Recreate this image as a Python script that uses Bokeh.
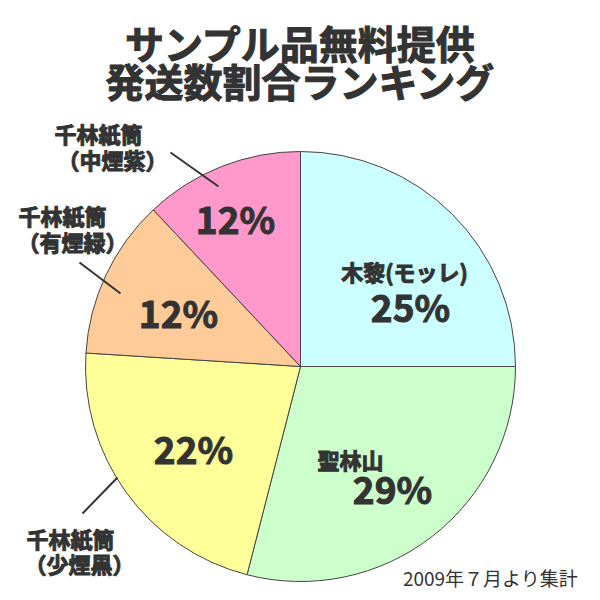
import math
from bokeh.plotting import figure
from bokeh.models import Range1d
from bokeh.core.properties import value
from bokeh.embed import file_html
from bokeh.resources import INLINE

# ---- data ----
title_lines = ["サンプル品無料提供", "発送数割合ランキング"]
categories = ["木黎(モッレ)", "聖林山", "千林紙筒\n（少煙黒）", "千林紙筒\n（有煙緑）", "千林紙筒\n（中煙紫）"]
shares = [25, 29, 22, 12, 12]
colors = ["#CCFFFF", "#CCFFCC", "#FFFF99", "#FFCC99", "#FF99CC"]
footer = "2009年７月より集計"

FONT = value("Noto Sans CJK JP")
TXT = "#333333"
# data coords: x = page pixel x, y = 600 - page pixel y
p = figure(width=584, height=592, x_range=Range1d(0, 584), y_range=Range1d(8, 600),
           output_backend="svg", toolbar_location=None, min_border=0)
p.axis.visible = False
p.grid.visible = False
p.outline_line_color = None
p.background_fill_color = "white"

cx, cy, R = 300, 234, 215
total = sum(shares)
starts, ends = [], []
cum = 0
for s in shares:
    starts.append(math.pi / 2 - 2 * math.pi * cum / total)
    cum += s
    ends.append(math.pi / 2 - 2 * math.pi * cum / total)

p.wedge(x=[cx] * len(shares), y=[cy] * len(shares), radius=R,
        start_angle=starts, end_angle=ends, direction="clock",
        fill_color=colors, line_color="#444444", line_width=1)

def Y(py):
    return 600 - py

def txt(x, py, t, size, style="bold", outline=False):
    kw = {}
    if outline:
        kw = dict(text_outline_color=TXT)
    p.text(x=[x], y=[Y(py)], text=[t], text_font=FONT, text_font_size=size,
           text_font_style=style, text_color=TXT, text_align="center",
           text_baseline="middle", **kw)

# title
txt(300, 41, title_lines[0], "39px", outline=True)
txt(300, 79, title_lines[1], "39px", outline=True)

# percentage label offsets from pie centre (page pixels, y down)
pct_off = [(110, -61), (92, 121), (-107, 81), (-122, -55), (-65, -149)]
for s, (dx, dy) in zip(shares, pct_off):
    txt(cx + dx, (600 - cy) + dy, f"{s}%", "37px", outline=True)

# inside category labels
txt(404, 270, categories[0], "22px", outline=True)
txt(350, 458, categories[1], "22px", outline=True)

# outside labels with leader lines
outside = [(2, (70, 537), (79, 562), (117, 477), (82, 513)),
           (3, (62, 214), (72, 240), (79, 262), (120, 293)),
           (4, (98, 132), (112, 158), (170, 152), (218, 186))]
for idx, l1, l2, a, b in outside:
    first, second = categories[idx].split("\n")
    txt(l1[0], l1[1], first, "22px", outline=True)
    txt(l2[0], l2[1], second, "22px", outline=True)
    p.line(x=[a[0], b[0]], y=[Y(a[1]), Y(b[1])], line_color=TXT, line_width=2)

# footer
txt(490, 577, footer, "19px", style="normal")

open("out.html", "w").write(file_html(p, INLINE))
